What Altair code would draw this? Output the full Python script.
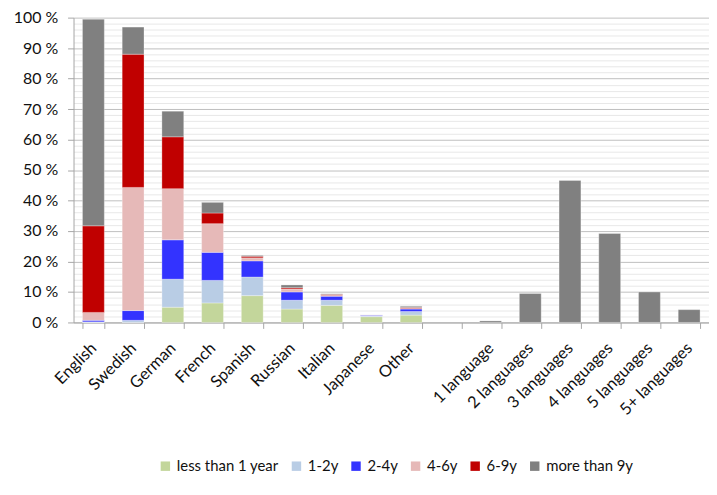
import altair as alt
import pandas as pd

languages = ["English", "Swedish", "German", "French", "Spanish", "Russian", "Italian", "Japanese", "Other"]
series = ["less than 1 year", "1-2y", "2-4y", "4-6y", "6-9y", "more than 9y"]
colors = ["#c3d69b", "#b9cde5", "#3333ff", "#e6b9b8", "#c00000", "#808080"]

lt1 = [0.0, 0.0, 5.0, 6.4, 8.8, 4.4, 5.6, 1.9, 2.4]
y1_2 = [0.2, 0.7, 9.2, 7.4, 6.1, 2.9, 1.7, 0.2, 1.2]
y2_4 = [0.5, 3.2, 12.9, 9.2, 5.3, 2.7, 1.3, 0.3, 0.8]
y4_6 = [2.6, 40.4, 16.8, 9.4, 1.0, 1.0, 0.3, 0.1, 0.2]
y6_9 = [28.4, 43.7, 17.0, 3.5, 0.5, 0.4, 0.3, 0.0, 0.3]
gt9 = [67.8, 8.9, 8.4, 3.5, 0.3, 0.9, 0.2, 0.0, 0.4]

counts = ["1 language", "2 languages", "3 languages", "4 languages", "5 languages", "5+ languages"]
count_vals = [0.5, 9.5, 46.6, 29.2, 10.0, 4.2]

rows = []
all_series = [lt1, y1_2, y2_4, y4_6, y6_9, gt9]
for i, lang in enumerate(languages):
    for j, (s, vals) in enumerate(zip(series, all_series)):
        rows.append({"cat": lang, "series": s, "ord": j, "value": vals[i]})
for c, v in zip(counts, count_vals):
    rows.append({"cat": c, "series": "more than 9y", "ord": 5, "value": v})
df = pd.DataFrame(rows)

domain = languages + [" "] + counts
FONT = "Lato"
major = "datum.value % 10 === 0"

chart = alt.Chart(df).mark_bar(stroke="white", strokeOpacity=0.3, strokeWidth=1).encode(
    x=alt.X(
        "cat:N",
        sort=domain,
        scale=alt.Scale(domain=domain, paddingInner=0.45, paddingOuter=0.225),
        axis=alt.Axis(
            title=None, labelAngle=-45, labelAlign="right", labelBaseline="middle",
            labelPadding=17, tickBand="extent", tickSize=6, domainColor="#a6a6a6",
            tickColor="#a6a6a6", labelFont=FONT, labelFontSize=16.5, labelColor="#111111",
            grid=False,
        ),
    ),
    y=alt.Y(
        "value:Q",
        stack="zero",
        scale=alt.Scale(domain=[0, 100], nice=False),
        axis=alt.Axis(
            title=None,
            values=list(range(0, 101, 2)),
            labelExpr="datum.value % 10 === 0 ? datum.value + ' %' : ''",
            labelOverlap=False,
            gridColor={"condition": {"test": major, "value": "#c0c0c0"}, "value": "#e8e8e8"},
            tickOpacity={"condition": {"test": major, "value": 1}, "value": 0},
            tickSize=6, tickColor="#a6a6a6", domainColor="#a6a6a6",
            labelPadding=10, labelFont=FONT, labelFontSize=16, labelColor="#111111",
        ),
    ),
    color=alt.Color(
        "series:N",
        scale=alt.Scale(domain=series, range=colors),
        legend=alt.Legend(
            title=None, orient="none", legendX=85, legendY=444, direction="horizontal",
            symbolType="square", symbolSize=90, symbolStrokeWidth=0,
            labelFont=FONT, labelFontSize=15, labelColor="#111111",
            columnPadding=10, labelOffset=4,
        ),
    ),
    order=alt.Order("ord:Q"),
).properties(
    width=640,
    height=307,
    autosize=alt.AutoSizeParams(type="none"),
    padding={"left": 66, "top": 8, "right": 0, "bottom": 160},
).configure_view(stroke=None)

chart.save("out.html", embed_options={"renderer": "svg", "actions": False})
